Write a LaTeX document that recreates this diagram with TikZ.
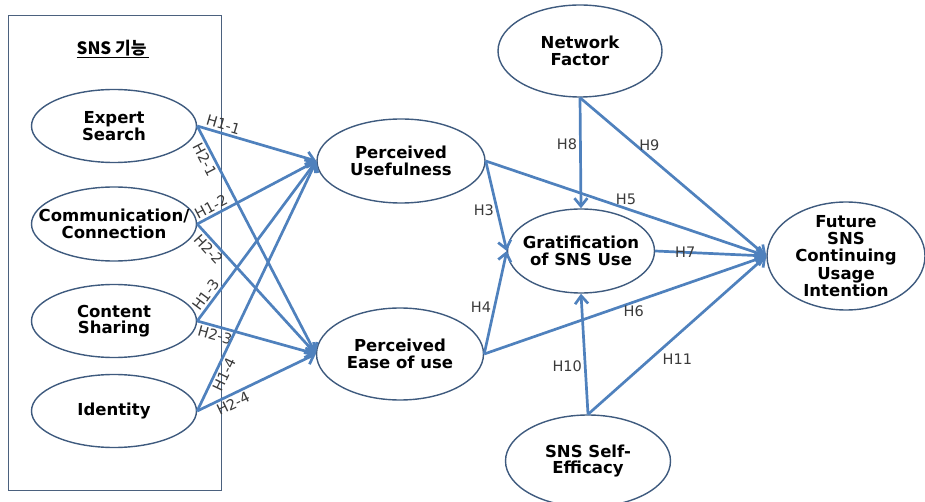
\documentclass[tikz,border=0pt]{standalone}
\usepackage{fontspec}
\setmainfont{DejaVu Sans}
\newfontfamily\cjk{Noto Sans CJK KR}
\usepackage{xcolor}
\usepackage{tikz}
\usetikzlibrary{shapes.geometric, arrows.meta, positioning}

\definecolor{linkblue}{HTML}{4F81BD}
\definecolor{rimblue}{HTML}{3E5A7E}
\definecolor{labelgray}{HTML}{3A3A3A}

\begin{document}
\begin{tikzpicture}[
    x=1pt, y=-1pt,
    ovaltext/.style={align=center, inner sep=0pt, font=\fontsize{16.5}{16.5}\selectfont\bfseries},
    factor/.style={draw=rimblue, line width=1.4pt, ellipse, inner sep=0pt, ovaltext},
    link/.style={-{Straight Barb[length=8pt, width=13pt]}, line width=2.7pt, draw=linkblue},
    hyp/.style={font=\fontsize{14.5}{15}\selectfont, text=labelgray, inner sep=2pt}
]
    \useasboundingbox (0,0) rectangle (925,502);

    % SNS feature panel
    \draw[rimblue!80!gray, line width=0.9pt] (8,15) rectangle (221,490);
    \node[font=\cjk\fontsize{17}{17}\selectfont\bfseries] (title) at (113,49) {\underline{SNS 기능\,}};

    \node[factor, minimum width=165, minimum height=73] (expert) at (114,126) {Expert\\Search};
    \node[factor, minimum width=165, minimum height=74,
        label={[ovaltext]center:{Communication/\\Connection}}] (comm) at (114,224) {};
    \node[factor, minimum width=165, minimum height=73] (content) at (114,321) {Content\\Sharing};
    \node[factor, minimum width=165, minimum height=73] (identity) at (114,411) {Identity};

    \node[factor, minimum width=168, minimum height=84] (useful) at (401,161) {Perceived\\Usefulness};
    \node[factor, minimum width=167, minimum height=92] (ease) at (400,354) {Perceived\\Ease of use};

    \node[factor, minimum width=164, minimum height=92] (network) at (580,51) {Network\\Factor};
    \node[factor, minimum width=147, minimum height=84,
        label={[ovaltext]center:{Gratification\\of SNS Use}}] (grat) at (581,251) {};
    \node[factor, minimum width=165, minimum height=92] (selfeff) at (588,461) {SNS Self-\\Efficacy};
    \node[factor, minimum width=158, minimum height=108,
        label={[ovaltext, font=\fontsize{16.5}{17.3}\selectfont\bfseries]center:{Future\\SNS\\Continuing\\Usage\\Intention}}] (future) at (846,256) {};

    % features -> perceived usefulness / ease of use
    \draw[link] (expert.east) -- node[hyp, sloped, above, pos=0.2] {H1-1} (useful.west);
    \draw[link] (expert.east) -- node[hyp, sloped, below, pos=0.13] {H2-1} (ease.west);
    \draw[link] (comm.east) -- node[hyp, sloped, above, pos=0.15] {H1-2} (useful.west);
    \draw[link] (comm.east) -- node[hyp, sloped, below, pos=0.15] {H2-2} (ease.west);
    \draw[link] (content.east) -- node[hyp, sloped, above, pos=0.13] {H1-3} (useful.west);
    \draw[link] (content.east) -- node[hyp, sloped, below, pos=0.17] {H2-3} (ease.west);
    \draw[link] (identity.east) -- node[hyp, sloped, below, pos=0.16] {H1-4} (useful.west);
    \draw[link] (identity.east) -- node[hyp, sloped, below, pos=0.27] {H2-4} (ease.west);

    % model paths
    \draw[link] (useful.east) -- node[hyp, left, pos=0.55] {H3} (grat.west);
    \draw[link] (ease.east) -- node[hyp, left, pos=0.45] {H4} (grat.west);
    \draw[link] (useful.east) -- node[hyp, above, pos=0.5] {H5} (future.west);
    \draw[link] (ease.east) -- node[hyp, below, pos=0.53] {H6} (future.west);
    \draw[link] (grat.east) -- node[hyp, pos=0.27] {H7} (future.west);
    \draw[link] (network.south) -- node[hyp, left, pos=0.42] {H8} (grat.north);
    \draw[link] (network.south) -- node[hyp, right, pos=0.3] {H9} (future.west);
    \draw[link] (selfeff.north) -- node[hyp, left, pos=0.4] {H10} (grat.south);
    \draw[link] (selfeff.north) -- node[hyp, below right, pos=0.4] {H11} (future.west);
\end{tikzpicture}
\end{document}
